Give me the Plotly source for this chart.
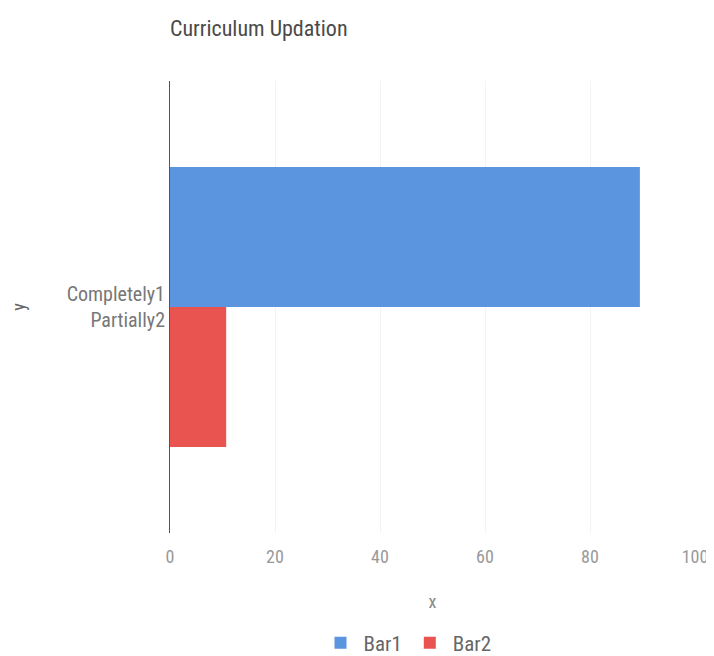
import plotly.graph_objects as go

# Data
categories = ["Completely1<br>Partially2"]
bar1_values = [89.5]
bar2_values = [10.7]
series_names = ["Bar1", "Bar2"]

NARROW = "Liberation Sans Narrow, Roboto Condensed, Roboto, Arial, sans-serif"

W, H = 706, 648  # page body adds an 8px margin before the figure

fig = go.Figure()

fig.add_trace(go.Bar(
    y=categories,
    x=bar1_values,
    name=series_names[0],
    orientation="h",
    marker=dict(color="#5b95df", line=dict(width=0)),
))
fig.add_trace(go.Bar(
    y=categories,
    x=bar2_values,
    name=series_names[1],
    orientation="h",
    marker=dict(color="#ea5450", line=dict(width=0)),
))

fig.update_layout(
    width=W,
    height=H,
    paper_bgcolor="white",
    plot_bgcolor="white",
    font=dict(family=NARROW, color="#777777", size=18),
    title=dict(
        text="Curriculum Updation",
        x=162 / W,
        xanchor="left",
        y=1 - 20 / H,
        yanchor="middle",
        font=dict(size=22, color="#4a4a4a"),
    ),
    barmode="group",
    bargap=0.38,
    bargroupgap=0,
    margin=dict(l=162, r=19, t=73, b=123),
    showlegend=True,
    legend=dict(
        orientation="h",
        xref="container",
        x=399 / W,
        xanchor="center",
        yref="container",
        y=(H - 635) / H,
        yanchor="middle",
        font=dict(size=21, color="#666666"),
        traceorder="normal",
        itemwidth=36,
    ),
    xaxis=dict(
        range=[0, 100],
        tickvals=[0, 20, 40, 60, 80, 100],
        showgrid=True,
        gridcolor="#f3f3f3",
        zeroline=False,
        showline=False,
        ticks="outside",
        ticklen=7,
        tickcolor="rgba(0,0,0,0)",
        tickfont=dict(size=18, color="#999999"),
        title=dict(text="x", font=dict(size=18, color="#888888"), standoff=29),
        automargin=False,
    ),
    yaxis=dict(
        autorange="reversed",
        showgrid=False,
        showline=True,
        linecolor="#555555",
        linewidth=1,
        ticks="",
        tickfont=dict(size=20, color="#777777"),
        title=dict(text="y", font=dict(size=18, color="#666666"), standoff=36),
        automargin=False,
    ),
)

fig.write_html("out.html")
